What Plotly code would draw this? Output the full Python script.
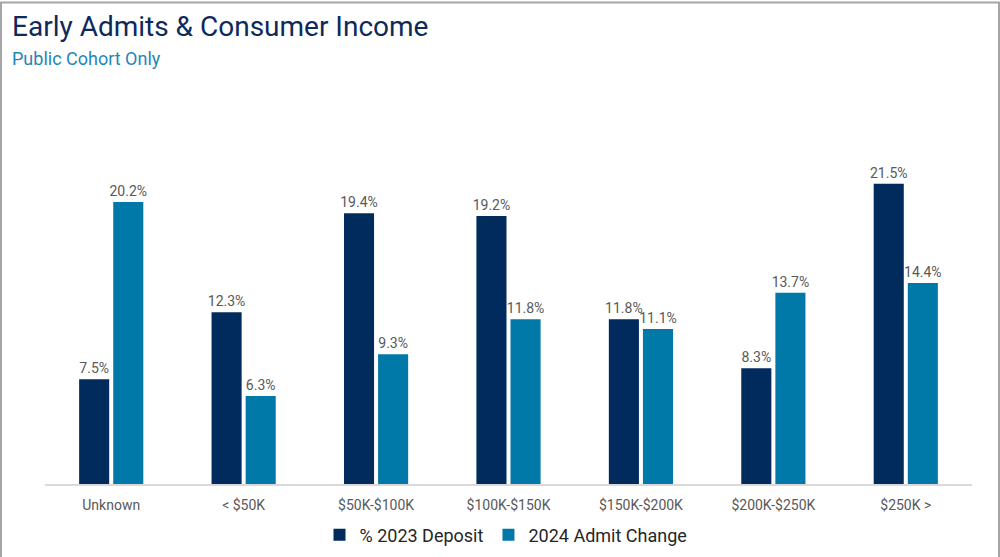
import plotly.graph_objects as go

categories = ["Unknown", "< $50K", "$50K-$100K", "$100K-$150K", "$150K-$200K", "$200K-$250K", "$250K >"]
deposit_2023 = [7.5, 12.3, 19.4, 19.2, 11.8, 8.3, 21.5]
admit_change_2024 = [20.2, 6.3, 9.3, 11.8, 11.1, 13.7, 14.4]
series_names = ["% 2023 Deposit", "2024 Admit Change"]

NAVY = "#012B5C"
TEAL = "#0079A9"
FONT = "Roboto, Arial, sans-serif"

# target geometry in reference pixels; S compensates the vertical squeeze seen in rendering
S = 565 / 557
W, H = 1000, 565
ML, MR = 45, 28
MT = round(133 * S)
MB = H - round(481.5 * S)
pw, ph = W - ML - MR, H - MT - MB


def py(yref_px):
    """paper y for a target pixel row (reference coords)."""
    return 1 - (yref_px * S - MT) / ph


fig = go.Figure()
for name, vals, col in [(series_names[0], deposit_2023, NAVY), (series_names[1], admit_change_2024, TEAL)]:
    fig.add_trace(go.Bar(
        x=categories, y=vals, name=name, marker=dict(color=col, line=dict(width=0)),
        text=[f"{v:.1f}%" for v in vals], textposition="outside", constraintext="none",
        textfont=dict(family=FONT, size=14, color="#595959"), cliponaxis=False,
    ))

fig.update_layout(
    width=W, height=H, autosize=False,
    margin=dict(l=ML, r=MR, t=MT, b=MB),
    paper_bgcolor="white", plot_bgcolor="white",
    barmode="group", bargap=0.485, bargroupgap=0.118,
    font=dict(family=FONT),
    xaxis=dict(showgrid=False, showline=True, linecolor="#D9D9D9", linewidth=1.5,
               ticks="", tickfont=dict(family=FONT, size=14, color="#595959"), ticklabelstandoff=7),
    yaxis=dict(range=[0, 25], visible=False, showgrid=False, zeroline=False),
    legend=dict(orientation="h", x=0.5 + (506 - ML - pw / 2) / pw, xanchor="center",
                y=py(532), yanchor="middle",
                font=dict(family=FONT, size=18, color="#262626"), itemwidth=30,
                traceorder="normal"),
    showlegend=True,
)

# Title & subtitle
fig.add_annotation(text="Early Admits & Consumer Income", xref="paper", yref="paper",
                   x=(10 - ML) / pw, y=py(25), xanchor="left", yanchor="middle",
                   showarrow=False, font=dict(family=FONT, size=28, color="#0D2A5B"))
fig.add_annotation(text="Public Cohort Only", xref="paper", yref="paper",
                   x=(10 - ML) / pw, y=py(57), xanchor="left", yanchor="middle",
                   showarrow=False, font=dict(family=FONT, size=18, color="#1F87B8"))

# Outer frame
fig.add_shape(type="rect", xref="paper", yref="paper",
              x0=(1 - ML) / pw, x1=(W - 1 - ML) / pw,
              y0=py(555.5), y1=py(1),
              line=dict(color="#A6A6A6", width=2), fillcolor="rgba(0,0,0,0)", layer="below")

post = (
    "document.documentElement.style.margin='0';"
    "document.body.style.margin='0';"
)
fig.write_html("out.html", config={"displayModeBar": False, "responsive": False},
               post_script=post)
